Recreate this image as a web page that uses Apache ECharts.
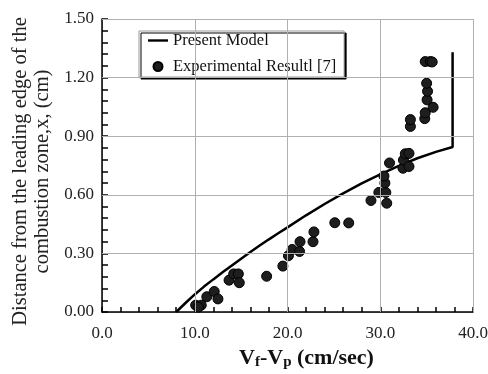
<!DOCTYPE html>
<html>
<head>
<meta charset="utf-8">
<script src="https://cdn.jsdelivr.net/npm/echarts@6/dist/echarts.min.js"></script>
<style>
  html, body { margin: 0; padding: 0; background: #fff; }
  #chart { width: 488px; height: 374px; }
</style>
</head>
<body>
<div id="chart"></div>
<script>
// model curve
const modelX = [8.0, 9.0, 10.0, 11.0, 12.0, 13.0, 14.0, 15.0, 16.0, 17.0, 18.0, 19.0, 20.0, 22.0, 24.0, 26.0, 28.0, 30.0, 32.0, 34.0, 36.0, 37.8, 37.8];
const modelY = [0.0, 0.046, 0.09, 0.13, 0.167, 0.203, 0.238, 0.273, 0.307, 0.34, 0.372, 0.403, 0.433, 0.495, 0.553, 0.607, 0.658, 0.705, 0.748, 0.787, 0.82, 0.845, 1.33];

// experimental points
const expX = [10.1, 10.7, 10.4, 11.3, 12.1, 12.5, 13.7, 14.2, 14.7, 14.8, 17.75, 19.5, 20.1, 20.5, 21.3, 21.35, 22.75, 22.85,
  25.1, 26.6, 29.0, 29.85, 30.6, 30.7, 30.5, 30.4, 31.0, 32.45, 32.5, 32.7, 33.1, 33.1, 33.25, 33.25,
  34.8, 34.85, 35.05, 35.1, 35.0, 35.7, 34.85, 35.4, 35.6];
const expY = [0.035, 0.035, 0.025, 0.078, 0.105, 0.067, 0.163, 0.195, 0.195, 0.15, 0.183, 0.235, 0.288, 0.32, 0.31, 0.36, 0.36, 0.41,
  0.457, 0.456, 0.571, 0.612, 0.612, 0.557, 0.66, 0.696, 0.763, 0.736, 0.778, 0.81, 0.812, 0.745, 0.95, 0.985,
  0.99, 1.02, 1.086, 1.13, 1.171, 1.048, 1.282, 1.282, 1.28];

// gridline positions (same as the major ticks)
const gridX = [10, 20, 30, 40];
const gridY = [0.3, 0.6, 0.9, 1.2, 1.5];

const font = 'Liberation Serif';

const chart = echarts.init(document.getElementById('chart'));

chart.setOption({
  animation: false,
  backgroundColor: '#fff',
  grid: { left: 102, right: 15, top: 19, bottom: 62, containLabel: false, outerBoundsMode: 'none' },
  legend: {
    left: 139, top: 31, orient: 'vertical', align: 'left',
    itemWidth: 20, itemHeight: 9, itemGap: 9, padding: [1, 8, 2, 9],
    backgroundColor: '#fff', borderColor: '#999', borderWidth: 1,
    shadowColor: '#000', shadowOffsetX: 2, shadowOffsetY: 2, shadowBlur: 0,
    textStyle: { fontFamily: font, fontSize: 16.5, color: '#111' },
    data: [
      { name: 'Present Model', icon: 'path://M0,0 L20,0 L20,2.4 L0,2.4 Z' },
      { name: 'Experimental Resultl [7]' },
    ],
  },
  xAxis: {
    type: 'value', min: 0, max: 40, interval: 10,
    name: '{v|V}{s|f}{v|-V}{s|p}{v| (cm/sec)}',
    nameLocation: 'middle', nameGap: 31,
    nameTextStyle: {
      padding: [0, 0, 0, 38],
      rich: {
        v: { fontFamily: font, fontSize: 22, fontWeight: 'bold', color: '#111', lineHeight: 24 },
        s: { fontFamily: font, fontSize: 15, fontWeight: 'bold', color: '#111', lineHeight: 24, padding: [8, 0, 0, 0] },
      },
    },
    axisLine: { lineStyle: { color: '#000', width: 1.5 } },
    axisTick: { inside: true, length: 5, lineStyle: { color: '#000', width: 1.5 } },
    minorTick: { show: true, splitNumber: 5, length: 5, lineStyle: { color: '#000', width: 1.5 } },
    axisLabel: { fontFamily: font, fontSize: 17, color: '#222', margin: 13, formatter: (v) => v.toFixed(1) },
    splitLine: { show: true, lineStyle: { color: '#b0b0b0', width: 1 } },
  },
  yAxis: {
    type: 'value', min: 0, max: 1.5, interval: 0.3,
    name: 'Distance from the leading edge of the\ncombustion zone,x, (cm)',
    nameLocation: 'middle', nameGap: 42,
    nameTextStyle: { fontFamily: font, fontSize: 20.5, color: '#222', lineHeight: 22, padding: [0, 12, 0, 0] },
    axisLine: { lineStyle: { color: '#000', width: 1.5 } },
    axisTick: { inside: true, length: 6, lineStyle: { color: '#000', width: 1.5 } },
    minorTick: { show: true, splitNumber: 5, length: 6, lineStyle: { color: '#000', width: 1.5 } },
    axisLabel: { fontFamily: font, fontSize: 17, color: '#222', margin: 8, formatter: (v) => v.toFixed(2) },
    splitLine: { show: true, lineStyle: { color: '#b0b0b0', width: 1 } },
  },
  series: [
    {
      // carries the gridlines only
      name: 'grid',
      type: 'line',
      data: [],
      z: 1,
      silent: true,
      markLine: {
        silent: true,
        animation: false,
        symbol: ['none', 'none'],
        label: { show: false },
        lineStyle: { color: '#b0b0b0', width: 1, type: 'solid' },
        emphasis: { disabled: true },
        data: gridX.map((x) => ({ xAxis: x })).concat(gridY.map((y) => ({ yAxis: y }))),
      },
    },
    {
      name: 'Present Model',
      type: 'line',
      symbol: 'none',
      lineStyle: { color: '#000', width: 2.5 },
      itemStyle: { color: '#000' },
      data: modelX.map((x, i) => [x, modelY[i]]),
      z: 3,
    },
    {
      name: 'Experimental Resultl [7]',
      type: 'scatter',
      symbol: 'circle',
      symbolSize: 10,
      itemStyle: { color: '#1e1e1e', borderColor: '#000', borderWidth: 1, opacity: 1 },
      data: expX.map((x, i) => [x, expY[i]]),
      z: 4,
    },
  ],
});
</script>
</body>
</html>
